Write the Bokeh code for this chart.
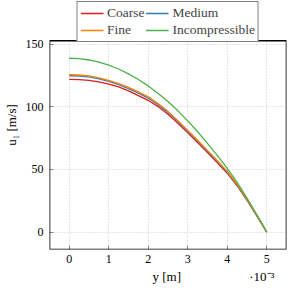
from bokeh.plotting import figure
from bokeh.models import Range1d, FixedTicker, Legend, LegendItem, BoxAnnotation
from bokeh.embed import file_html
from bokeh.resources import INLINE

# wall-normal coordinate in units of 1e-3 m
y_pos = [0.0, 0.25, 0.5, 0.75, 1.0, 1.25, 1.5, 1.75, 2.0, 2.25, 2.5,
         2.75, 3.0, 3.25, 3.5, 3.75, 4.0, 4.25, 4.5, 4.75, 5.0]
coarse = [122.0, 121.8, 121.1, 119.9, 118.2, 116.0, 112.8, 109.0, 105.2, 100.2, 94.0,
          86.9, 79.2, 71.5, 63.5, 55.3, 47.0, 37.0, 25.4, 12.9, 0.0]
medium = [124.8, 124.6, 123.9, 122.4, 120.3, 117.7, 114.6, 111.0, 107.0, 101.7, 95.5,
          88.3, 80.4, 72.6, 64.5, 56.3, 47.8, 37.6, 25.8, 13.1, 0.0]
fine = [125.6, 125.4, 124.7, 123.2, 121.2, 118.6, 115.5, 111.9, 108.0, 102.6, 96.3,
        89.0, 81.2, 73.3, 65.2, 57.0, 48.5, 38.2, 26.2, 13.3, 0.0]
incompressible = [138.8, 138.5, 137.4, 135.7, 133.3, 130.2, 126.3, 121.8, 116.7, 110.7, 104.2,
                  96.8, 88.8, 80.1, 70.8, 61.0, 50.8, 39.7, 27.1, 13.8, 0.0]

series_names = ["Coarse", "Medium", "Fine", "Incompressible"]
series_values = [coarse, medium, fine, incompressible]
series_colors = ["#e41a1c", "#377eb8", "#ff7f00", "#4daf4a"]

x_ticks = [0, 1, 2, 3, 4, 5]
y_ticks = [0, 50, 100, 150]

# axis box limits (pgfplots-style 10% enlargement)
X_LO, X_HI = -0.5, 5.5
Y_LO, Y_HI = -13.9, 152.7

FONT = "Liberation Serif"
NB = "\u00a0"

# layout: the frame reaches the top of the canvas so the legend (drawn inside
# the frame) sits above the axis box
W, H = 287, 287
BORDER_BOTTOM = 40
BOX_TOP_PX = 40
frame_h = H - BORDER_BOTTOM
y_end = Y_LO + (Y_HI - Y_LO) * frame_h / (frame_h - BOX_TOP_PX)

p = figure(width=W, height=H, output_backend="svg", toolbar_location=None,
           x_range=Range1d(X_LO, X_HI), y_range=Range1d(Y_LO, y_end),
           min_border_left=48, min_border_right=1, min_border_top=0,
           min_border_bottom=38)
p.background_fill_color = "white"
p.border_fill_color = "white"
p.outline_line_color = None

renderers = {}
for name, vals, col in zip(series_names, series_values, series_colors):
    renderers[name] = p.line(y_pos, vals, line_color=col, line_width=1.3)

for ax, ticks in ((p.xaxis[0], x_ticks), (p.yaxis[0], y_ticks)):
    ax.ticker = FixedTicker(ticks=ticks)
    ax.minor_tick_line_color = None
    ax.major_tick_in = 4
    ax.major_tick_out = 0
    ax.major_tick_line_color = "#888888"
    ax.axis_line_color = None
    ax.major_label_text_font = FONT
    ax.major_label_text_font_size = "12px"
    ax.major_label_text_line_height = 1.0
    ax.major_label_text_color = "black"
    ax.axis_label_text_font = FONT
    ax.axis_label_text_font_size = "13px"
    ax.axis_label_text_line_height = 1.0
    ax.axis_label_text_font_style = "normal"
    ax.axis_label_text_color = "black"

p.xaxis[0].axis_label = NB * 28 + "y [m]" + NB * 21 + "\u00b710\u207b\u00b3"
p.xaxis[0].major_label_standoff = 5
p.xaxis[0].axis_label_standoff = 3
p.yaxis[0].axis_label = "u\u2081 [m/s]"
p.yaxis[0].major_label_standoff = 6
p.yaxis[0].axis_label_standoff = 4

for g in (p.xgrid[0], p.ygrid[0]):
    g.grid_line_color = "#cccccc"
    g.grid_line_dash = "1 2"
    g.grid_line_width = 1
p.xgrid[0].ticker = FixedTicker(ticks=x_ticks)
p.ygrid[0].ticker = FixedTicker(ticks=y_ticks)

# blank area above the axis box, then the box itself
p.add_layout(BoxAnnotation(bottom=Y_HI, fill_color="white", fill_alpha=1.0, line_alpha=0))
p.add_layout(BoxAnnotation(left=X_LO, right=X_HI, bottom=Y_LO, top=Y_HI,
                           fill_alpha=0, line_color="black", line_width=1.6, line_alpha=1.0))

legend = Legend(items=[LegendItem(label=n, renderers=[renderers[n]]) for n in series_names],
                orientation="horizontal", nrows=2, location="top_center",
                label_text_font=FONT, label_text_font_size="13.5px",
                label_text_line_height=1.0,
                glyph_width=23, glyph_height=12, label_height=12, label_standoff=4,
                spacing=1, padding=3, margin=1,
                border_line_color="black", border_line_width=1.2,
                background_fill_color="white", background_fill_alpha=1)
p.add_layout(legend, "center")

open("out.html", "w").write(file_html(p, INLINE))
